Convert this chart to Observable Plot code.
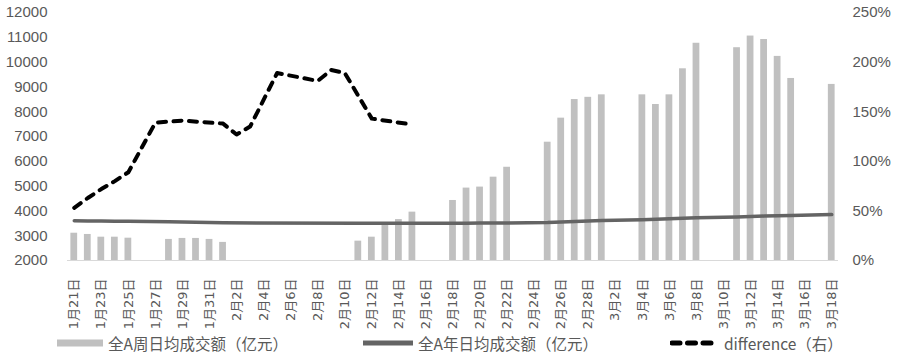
<!DOCTYPE html>
<html><head><meta charset="utf-8">
<script src="https://cdn.jsdelivr.net/npm/d3@7"></script>
<script src="https://cdn.jsdelivr.net/npm/@observablehq/plot@0.6"></script>
<style>
body{margin:0;background:#fff;}
#wrap{width:900px;height:360px;position:relative;overflow:hidden;background:#fff;}
#legend{position:absolute;left:0;top:329px;width:900px;height:30px;}
.item{position:absolute;top:0;height:28px;display:flex;align-items:center;font-size:15.5px;color:#595959;font-family:"Noto Sans CJK SC",sans-serif;white-space:nowrap;}
.item svg{margin-right:5px;}
</style></head><body>
<div id="wrap"><div id="chart"></div><div id="legend"></div></div>
<script>
// all calendar days on the category axis
const days = ["1月21日","1月22日","1月23日","1月24日","1月25日","1月26日","1月27日","1月28日","1月29日","1月30日","1月31日",
"2月1日","2月2日","2月3日","2月4日","2月5日","2月6日","2月7日","2月8日","2月9日","2月10日","2月11日","2月12日","2月13日","2月14日","2月15日","2月16日","2月17日","2月18日","2月19日","2月20日","2月21日","2月22日","2月23日","2月24日","2月25日","2月26日","2月27日","2月28日",
"3月1日","3月2日","3月3日","3月4日","3月5日","3月6日","3月7日","3月8日","3月9日","3月10日","3月11日","3月12日","3月13日","3月14日","3月15日","3月16日","3月17日","3月18日"];
const xTickLabels = ["1月21日","1月23日","1月25日","1月27日","1月29日","1月31日","2月2日","2月4日","2月6日","2月8日","2月10日","2月12日","2月14日","2月16日","2月18日","2月20日","2月22日","2月24日","2月26日","2月28日","3月2日","3月4日","3月6日","3月8日","3月10日","3月12日","3月14日","3月16日","3月18日"];

// trading days with values
const tradeDays = ["1月21日","1月22日","1月23日","1月24日","1月25日","1月28日","1月29日","1月30日","1月31日","2月1日",
"2月11日","2月12日","2月13日","2月14日","2月15日","2月18日","2月19日","2月20日","2月21日","2月22日",
"2月25日","2月26日","2月27日","2月28日","3月1日","3月4日","3月5日","3月6日","3月7日","3月8日",
"3月11日","3月12日","3月13日","3月14日","3月15日","3月18日"];
const weekAvg = [3100,3050,2940,2940,2900,2850,2890,2890,2850,2730,
2780,2940,3410,3650,3950,4420,4920,4960,5360,5760,
6770,7740,8490,8580,8680,8680,8290,8680,9730,10760,
10580,11050,10910,10230,9340,9100];
const yearAvg = [3600,3595,3590,3585,3580,3560,3550,3540,3530,3520,
3500,3500,3500,3500,3500,3500,3505,3510,3510,3515,
3530,3550,3570,3590,3610,3640,3660,3680,3700,3720,
3750,3770,3790,3800,3810,3850];

// difference (right axis, %)
const diffDays = ["1月21日","1月22日","1月23日","1月24日","1月25日","1月27日","1月29日","2月1日","2月2日","2月3日","2月5日","2月8日","2月9日","2月10日","2月12日","2月15日"];
const diffPct = [53,63,72,80,89,139,141,138,127,135,189,181,192,189,143,137];

const leftTicks = [2000,3000,4000,5000,6000,7000,8000,9000,10000,11000,12000];
const rightTicks = [0,50,100,150,200,250];
const yMin = 2000, yMax = 12000, pctMax = 250;
const toLeft = p => yMin + p * (yMax - yMin) / pctMax;

const trade = tradeDays.map((d, i) => ({date: d, week: weekAvg[i], year: yearAvg[i]}));
const diff = diffDays.map((d, i) => ({date: d, pct: diffPct[i]}));

const chart = Plot.plot({
  width: 900, height: 330,
  marginLeft: 67, marginRight: 62, marginTop: 12, marginBottom: 70,
  style: {fontFamily: "'Liberation Sans', sans-serif", fontSize: "15px", color: "#595959", background: "#fff"},
  x: {type: "band", domain: days, paddingInner: 0.5, paddingOuter: 0.25, round: false},
  y: {domain: [yMin, yMax]},
  marks: [
    Plot.ruleY([yMin], {stroke: "#d9d9d9", strokeWidth: 1}),
    Plot.barY(trade, {x: "date", y1: yMin, y2: "week", fill: "#c0c0c0"}),
    Plot.line(trade, {x: "date", y: "year", stroke: "#646464", strokeWidth: 3.5}),
    Plot.line(diff, {x: "date", y: d => toLeft(d.pct), stroke: "#000", strokeWidth: 4, strokeDasharray: "8,7.5", strokeLinecap: "round", strokeLinejoin: "round"}),
    Plot.axisY(leftTicks, {anchor: "left", tickSize: 0, tickPadding: 20, label: null, tickFormat: d => String(d)}),
    Plot.axisY(rightTicks.map(toLeft), {anchor: "right", tickSize: 0, tickPadding: 14, label: null,
      tickFormat: v => Math.round((v - yMin) * pctMax / (yMax - yMin)) + "%"}),
    Plot.axisX(xTickLabels, {tickSize: 0, tickRotate: -90, tickPadding: 18, label: null})
  ]
});
document.getElementById("chart").appendChild(chart);
// font settings for the tick labels
d3.select(chart).selectAll("text").each(function() {
  const t = d3.select(this);
  const s = t.text();
  if (s.includes("月")) {
    t.style("font-size", "13px").style("font-family", "'DejaVu Sans', 'Noto Sans CJK SC', sans-serif").style("fill", "#595959");
  } else {
    t.style("font-size", "15px").style("font-family", "'Liberation Sans', sans-serif").style("fill", "#595959");
  }
});

const legend = document.getElementById("legend");
const items = [
  {x: 57, text: "全A周日均成交额（亿元）", svg: '<svg width="46" height="10"><rect x="0" y="1.5" width="46" height="7" fill="#c0c0c0"/></svg>'},
  {x: 363, text: "全A年日均成交额（亿元）", svg: '<svg width="50" height="10"><line x1="0" y1="5" x2="50" y2="5" stroke="#646464" stroke-width="5"/></svg>'},
  {x: 670, text: "difference（右）", svg: '<svg width="46" height="10" style="margin-right:8px"><line x1="2" y1="5" x2="44" y2="5" stroke="#000" stroke-width="5" stroke-dasharray="8,7.5" stroke-linecap="round"/></svg>'}
];
for (const it of items) {
  const div = document.createElement("div");
  div.className = "item";
  div.style.left = it.x + "px";
  div.innerHTML = it.svg + "<span>" + it.text + "</span>";
  legend.appendChild(div);
}
</script></body></html>
